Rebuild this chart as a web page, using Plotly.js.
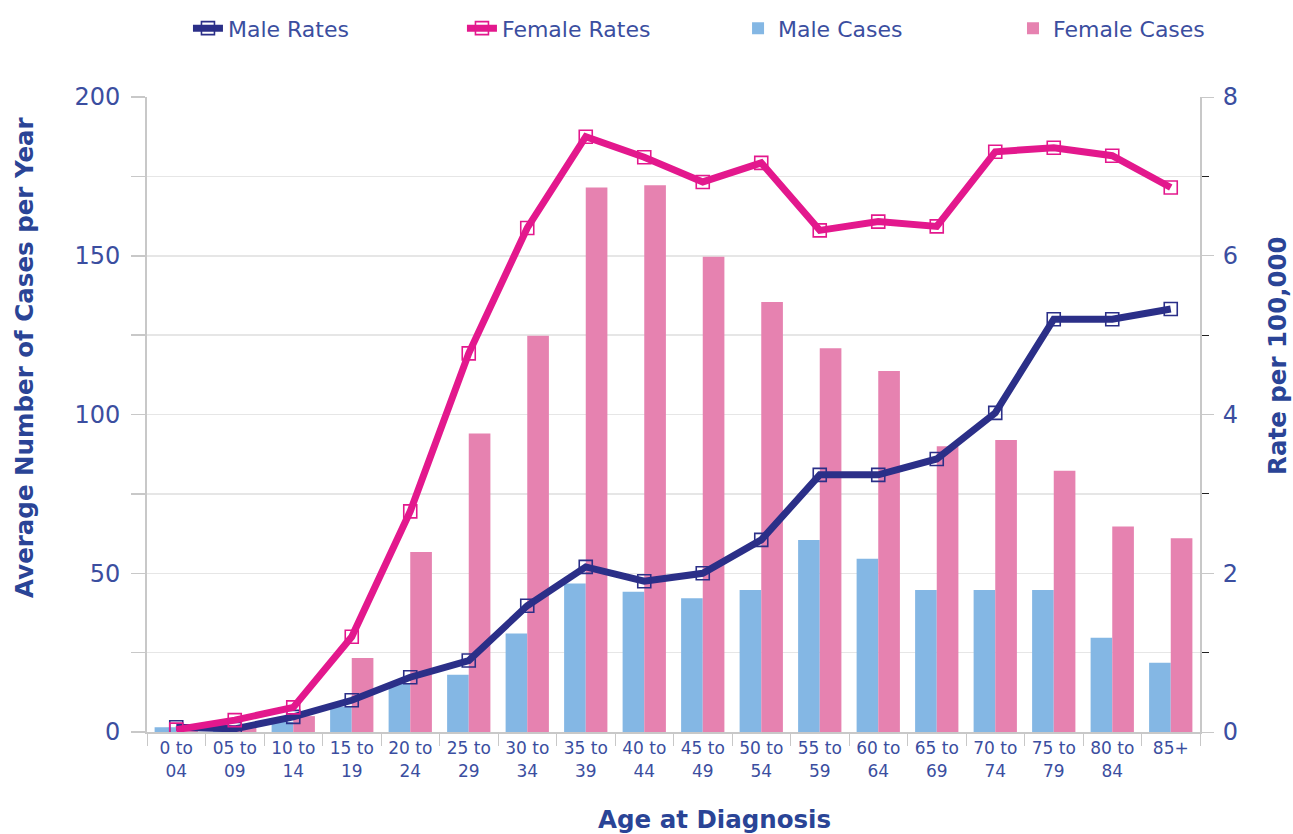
<!DOCTYPE html>
<html><head><meta charset="utf-8">
<script src="https://cdn.plot.ly/plotly-3.0.1.min.js"></script>
<style>html,body{margin:0;padding:0;background:#fff}#chart{width:1293px;height:834px}</style>
</head><body><div id="chart"></div>
<script>
const ageGroups = ["0 to<br>04","05 to<br>09","10 to<br>14","15 to<br>19","20 to<br>24","25 to<br>29","30 to<br>34","35 to<br>39","40 to<br>44","45 to<br>49","50 to<br>54","55 to<br>59","60 to<br>64","65 to<br>69","70 to<br>74","75 to<br>79","80 to<br>84","85+"];
const maleCases   = [1.5, 0.5, 3.2, 8, 15.4, 18, 31, 46.8, 44.2, 42.1, 44.7, 60.5, 54.6, 44.7, 44.7, 44.7, 29.7, 21.8];
const femaleCases = [1, 2, 5, 23.3, 56.7, 94, 124.8, 171.5, 172.2, 149.7, 135.4, 120.9, 113.7, 90, 92, 82.3, 64.7, 61];
const maleRates   = [0.06, 0.04, 0.19, 0.4, 0.69, 0.9, 1.59, 2.08, 1.9, 2.0, 2.42, 3.24, 3.24, 3.44, 4.02, 5.2, 5.2, 5.33];
const femaleRates = [0.03, 0.15, 0.31, 1.2, 2.78, 4.77, 6.35, 7.5, 7.24, 6.93, 7.17, 6.32, 6.43, 6.37, 7.31, 7.36, 7.26, 6.86];
const xTitle = 'Age at Diagnosis';
const yTitle = 'Average Number of Cases per Year';
const y2Title = 'Rate per 100,000';

const txt = '#3b4ea0';
const titleCol = '#2a4496';
const navy = '#2b2f88';
const magenta = '#e3188d';
const fam = 'DejaVu Sans, Verdana, sans-serif';

const traces = [
  {type:'bar', name:'Male Cases', x:ageGroups, y:maleCases, marker:{color:'#84b7e4'}, legend:'legend3'},
  {type:'bar', name:'Female Cases', x:ageGroups, y:femaleCases, marker:{color:'#e682b0'}, legend:'legend4'},
  {type:'scatter', mode:'lines+markers', name:'Male Rates', x:ageGroups, y:maleRates, yaxis:'y2',
   line:{color:navy, width:7}, marker:{symbol:'square-open', size:13, color:navy, line:{color:navy, width:1.6}}, legend:'legend'},
  {type:'scatter', mode:'lines+markers', name:'Female Rates', x:ageGroups, y:femaleRates, yaxis:'y2',
   line:{color:magenta, width:7}, marker:{symbol:'square-open', size:13, color:magenta, line:{color:magenta, width:1.6}}, legend:'legend2'}
];

function leg(x) {
  return {orientation:'h', x:x, xanchor:'left', y:0.966, yanchor:'middle', yref:'container',
          font:{size:22, color:txt, family:fam}, bgcolor:'rgba(0,0,0,0)'};
}
const titleFont = {size:24.5, color:titleCol, family:fam};
const layout = {
  width:1293, height:834,
  margin:{l:147, r:93, t:97, b:102},
  paper_bgcolor:'#fff', plot_bgcolor:'#fff',
  font:{family:fam, color:txt},
  barmode:'group', bargap:0.26, bargroupgap:0,
  showlegend:true,
  legend:leg(0.0389), legend2:leg(0.2991), legend3:leg(0.5613), legend4:leg(0.8224),
  xaxis:{type:'category', range:[-0.5, 17.5], autorange:false, tickson:'boundaries', ticks:'outside', ticklen:12, tickcolor:'#c8c8c8',
         showline:true, linecolor:'#c8c8c8', linewidth:2, showgrid:false,
         tickfont:{size:17, color:txt}},
  yaxis:{range:[0,200], dtick:50, ticks:'outside', ticklen:14, tickcolor:'#c8c8c8', tickwidth:1.5,
         showline:true, linecolor:'#c8c8c8', linewidth:2, showgrid:true, gridcolor:'#e6e6e6', gridwidth:1.5,
         zeroline:false, tickfont:{size:24, color:txt}, ticklabelstandoff:6,
         minor:{dtick:25, showgrid:true, gridcolor:'#e6e6e6', ticks:'outside', ticklen:14, tickcolor:'#c8c8c8'}},
  yaxis2:{overlaying:'y', side:'right', range:[0,8], dtick:2, ticks:'outside', ticklen:12, tickcolor:'#c8c8c8',
          showline:true, linecolor:'#c8c8c8', linewidth:2, showgrid:false, zeroline:false,
          tickfont:{size:24, color:txt}, ticklabelstandoff:4,
          minor:{dtick:1, ticks:'outside', ticklen:7, tickcolor:'#222', showgrid:false}},
  annotations:[
    {text:'<b>'+yTitle+'</b>', xref:'paper', yref:'paper', x:-0.1159, y:0.5906, xanchor:'center', yanchor:'middle',
     textangle:-90, showarrow:false, font:titleFont},
    {text:'<b>'+y2Title+'</b>', xref:'paper', yref:'paper', x:1.0731, y:0.5937, xanchor:'center', yanchor:'middle',
     textangle:-90, showarrow:false, font:titleFont},
    {text:'<b>'+xTitle+'</b>', xref:'paper', yref:'paper', x:0.5394, y:-0.1118, xanchor:'center', yanchor:'top',
     showarrow:false, font:titleFont}
  ]
};

Plotly.newPlot('chart', traces, layout, {displayModeBar:false, staticPlot:true});
</script></body></html>
